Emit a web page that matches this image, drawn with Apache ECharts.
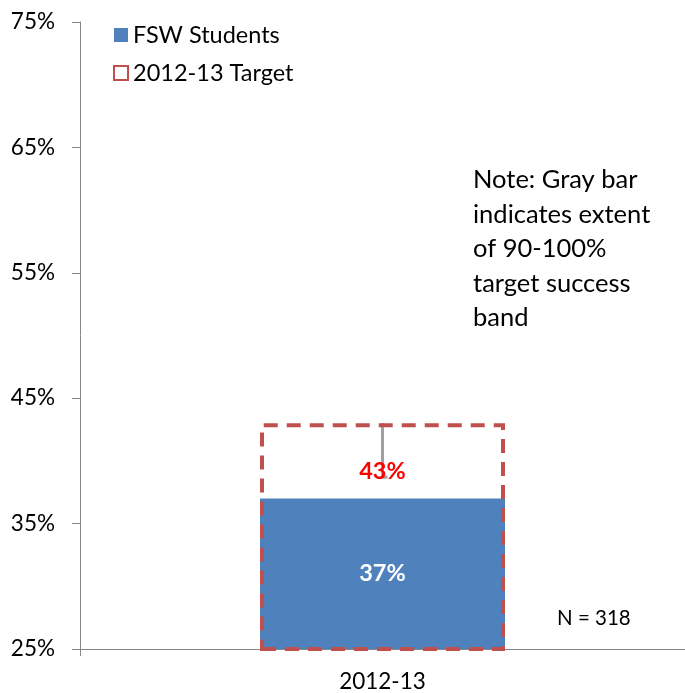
<!DOCTYPE html>
<html>
<head>
<meta charset="utf-8">
<script src="https://cdn.jsdelivr.net/npm/echarts@6/dist/echarts.min.js"></script>
<style>
html,body{margin:0;padding:0;background:#fff;}
#c{width:685px;height:693px;}
</style>
</head>
<body>
<div id="c"></div>
<script>
const categories = ['2012-13'];
const studentValues = [37];
const targetValues = [43];
const bandLowValues = [38.7];
const yTicks = [25, 35, 45, 55, 65, 75];
const noteText = 'Note: Gray bar\nindicates extent\nof 90-100%\ntarget success\nband';
const nText = 'N = 318';

const FONT = 'Lato';
const chart = echarts.init(document.getElementById('c'));
chart.setOption({
  animation: false,
  backgroundColor: '#fff',
  textStyle: { fontFamily: FONT },
  grid: { left: 80, width: 611, top: 22, bottom: 43, containLabel: false },
  legend: {
    orient: 'vertical',
    left: 108, top: 18,
    itemWidth: 14, itemHeight: 14, itemGap: 14,
    textStyle: { fontFamily: FONT, fontSize: 23.5, color: '#000' },
    data: [
      { name: 'FSW Students', icon: 'rect' },
      { name: '2012-13 Target', icon: 'rect' }
    ]
  },
  xAxis: {
    type: 'category',
    data: categories,
    axisLine: { lineStyle: { color: '#868686', width: 1 } },
    axisTick: { show: true, length: 7, lineStyle: { color: '#868686' } },
    axisLabel: { fontFamily: FONT, fontSize: 22.5, color: '#000', margin: 21 }
  },
  yAxis: {
    type: 'value',
    min: yTicks[0], max: yTicks[yTicks.length - 1], interval: 10,
    axisLine: { show: true, lineStyle: { color: '#868686', width: 1 } },
    axisTick: { show: true, length: 8, lineStyle: { color: '#868686' } },
    splitLine: { show: false },
    axisLabel: { fontFamily: FONT, fontSize: 22.5, color: '#000', margin: 25, formatter: '{value}%' }
  },
  series: [
    {
      name: 'FSW Students',
      type: 'bar',
      data: studentValues,
      barWidth: 245,
      itemStyle: { color: '#4F81BD' },
      label: { show: true, position: 'inside', formatter: '{c}%', color: '#fff', fontWeight: 'bold', fontSize: 23.5, fontFamily: FONT },
      z: 2
    },
    {
      name: '2012-13 Target',
      type: 'bar',
      data: targetValues,
      barWidth: 245,
      barGap: '-100%',
      itemStyle: { color: 'rgba(0,0,0,0)', borderColor: '#C0504D', borderWidth: 4, borderType: [14, 9] },
      label: { show: true, position: 'insideTop', distance: 36, formatter: '{c}%', color: '#FF0000', fontWeight: 'bold', fontSize: 23.5, fontFamily: FONT },
      z: 4
    },
    {
      name: 'band',
      type: 'custom',
      data: categories.map((c, i) => [i, targetValues[i], bandLowValues[i]]),
      renderItem: function (params, api) {
        const top = api.coord([api.value(0), api.value(1)]);
        const low = api.coord([api.value(0), api.value(2)]);
        return {
          type: 'group',
          children: [
            { type: 'line', shape: { x1: top[0], y1: top[1], x2: low[0], y2: low[1] }, style: { stroke: '#A0A0A0', lineWidth: 3 } },
            { type: 'line', shape: { x1: low[0] - 1.5, y1: low[1], x2: low[0] + 5, y2: low[1] }, style: { stroke: '#A0A0A0', lineWidth: 3 } }
          ]
        };
      },
      z: 3
    }
  ],
  graphic: [
    { type: 'text', left: 473, top: 163, style: { text: noteText, fontFamily: FONT, fontSize: 25.5, lineHeight: 34.5, fill: '#000' } },
    { type: 'text', left: 557, top: 608, style: { text: nText, fontFamily: FONT, fontSize: 20.5, fill: '#000' } }
  ]
});
</script>
</body>
</html>
